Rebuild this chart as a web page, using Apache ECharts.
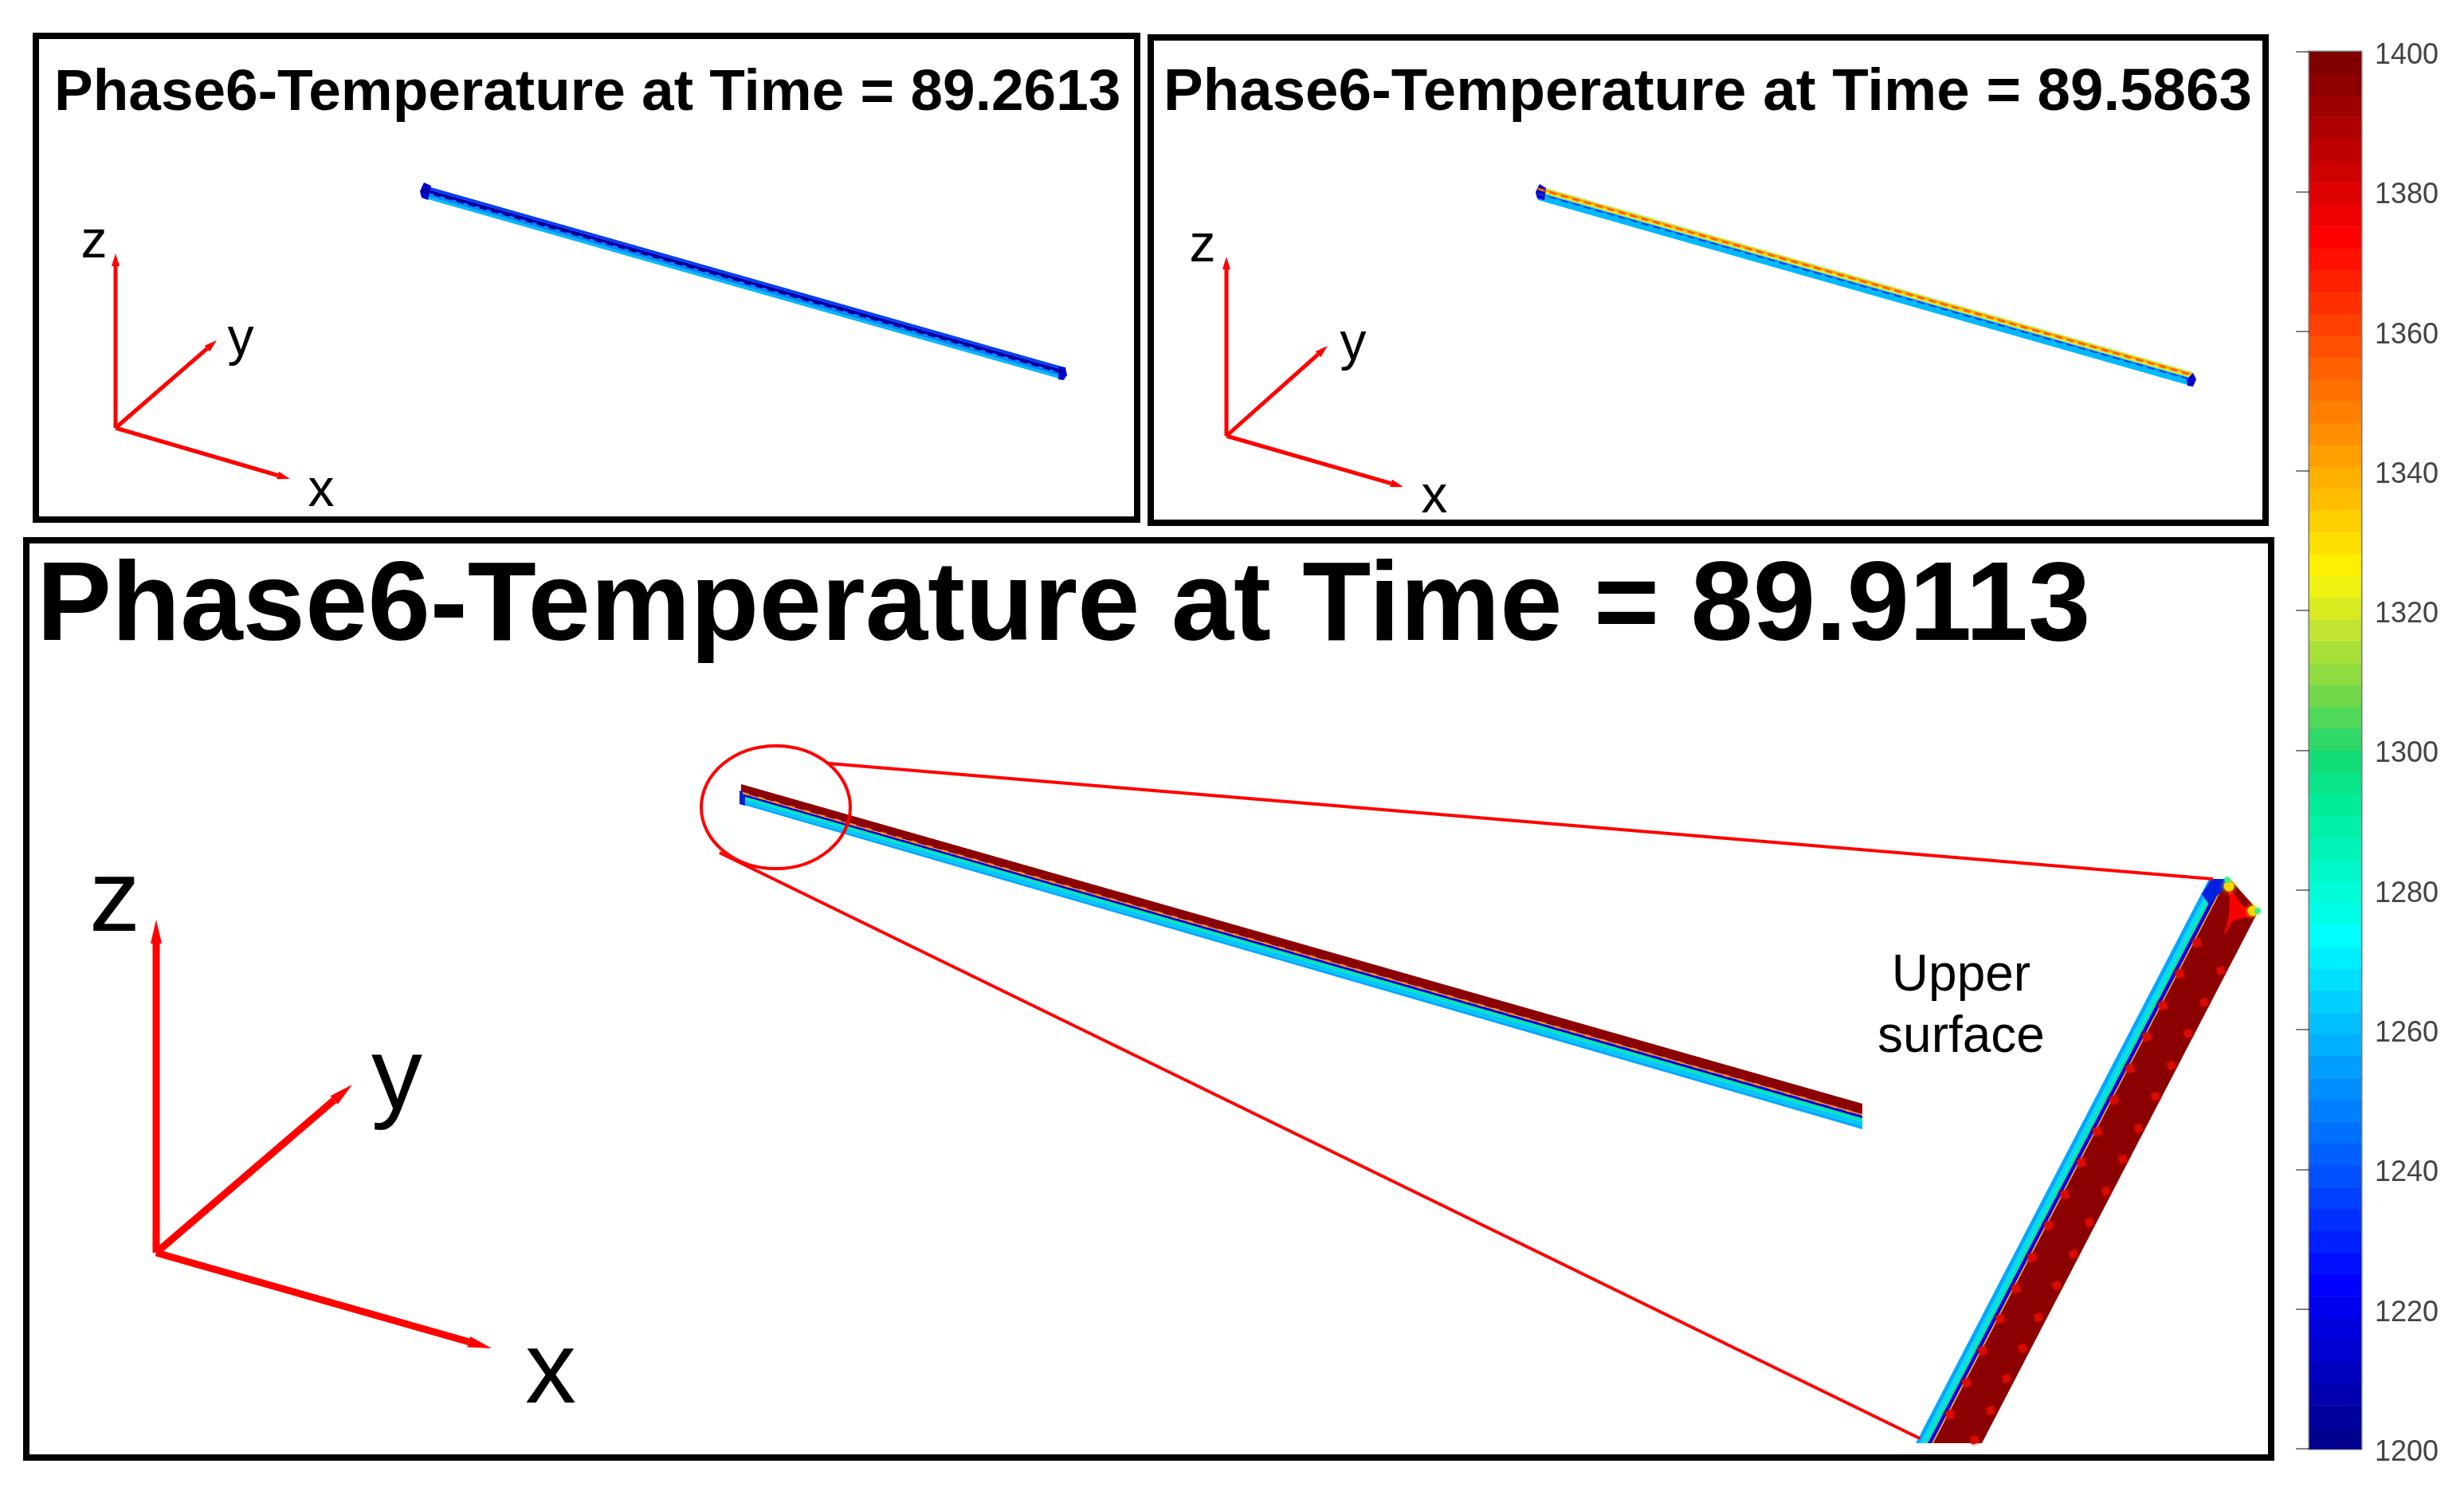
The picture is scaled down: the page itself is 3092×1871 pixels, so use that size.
<!DOCTYPE html>
<html><head><meta charset="utf-8">
<style>html,body{margin:0;padding:0;background:#fff}#c{width:3092px;height:1871px}#c canvas{filter:blur(.7px)}</style>
<script src="https://cdn.jsdelivr.net/npm/echarts@6/dist/echarts.min.js"></script></head>
<body><div id="c"></div>
<script>
// ---- text ----
const panelTitles = ['Phase6-Temperature at Time = 89.2613','Phase6-Temperature at Time = 89.5863','Phase6-Temperature at Time = 89.9113'];
const noteText = ['Upper','surface'];
// ---- colour bar ----
const colorbarTicks = [1200,1220,1240,1260,1280,1300,1320,1340,1360,1380,1400];
const colorbarLow = [1200,1203.125,1206.25,1209.375,1212.5,1215.625,1218.75,1221.875,1225,1228.125,1231.25,1234.375,1237.5,1240.625,1243.75,1246.875,1250,1253.125,1256.25,1259.375,1262.5,1265.625,1268.75,1271.875,1275,1278.125,1281.25,1284.375,1287.5,1290.625,1293.75,1296.875,1300,1303.125,1306.25,1309.375,1312.5,1315.625,1318.75,1321.875,1325,1328.125,1331.25,1334.375,1337.5,1340.625,1343.75,1346.875,1350,1353.125,1356.25,1359.375,1362.5,1365.625,1368.75,1371.875,1375,1378.125,1381.25,1384.375,1387.5,1390.625,1393.75,1396.875];
const colorbarColors = ['#00008f','#00009f','#0000af','#0000bf','#0000cf','#0000df','#0000ef','#0000ff','#0010ff','#0020ff','#0030ff','#0040ff','#0050ff','#0060ff','#0070ff','#0080ff','#008fff','#009fff','#00afff','#00bfff','#00cfff','#00dfff','#00efff','#00ffff','#00ffe8','#00fdd8','#00f8c8','#00f4b8','#00f0a8','#00ec98','#08e488','#10dc78','#30d868','#50d858','#70d848','#90dc40','#a8e038','#c0e430','#d8ea20','#eef210','#ffef00','#ffdf00','#ffcf00','#ffbf00','#ffaf00','#ff9f00','#ff8f00','#ff8000','#ff7000','#ff6000','#ff5000','#ff4000','#ff3000','#ff2000','#ff1000','#ff0000','#ef0000','#df0000','#cf0000','#bf0000','#af0000','#9f0000','#8f0000','#800000'];
// ---- rod cross-section layers: [fraction from, fraction to, colour] ----
const rod1Edges = [[[530,232],[1336,461]],[[530,248],[1336,477]]];
const rod1Layers = [[0,.22,'#0040f0'],[.22,.5,'#0000c0'],[.5,.8,'#0088ff'],[.8,1,'#00b8ff']];
const rod2Edges = [[[1930,233],[2752,467]],[[1930,251],[2752,485]]];
const rod2Layers = [[0,.08,'#a0ff60'],[.08,.26,'#ffa800'],[.26,.42,'#ffe000'],[.42,.48,'#00e0e0'],[.48,.58,'#0060ff'],[.58,1,'#00b8ff']];
const rod3Edges = [[[930,984],[2337,1385]],[[930,1009],[2337,1417]]];
const rod3Layers = [[0,.42,'#8b0000'],[.42,.46,'#ffa000'],[.46,.58,'#0000d8'],[.58,.7,'#00e8a0'],[.7,.88,'#00c8ff'],[.88,1,'#00a8ff']];
const zoomEdges = [[[2772,1103],[2404,1811]],[[2795,1103],[2426,1811]]];
const zoomLayers = [[0,.26,'#00a8ff'],[.26,.48,'#00d8ff'],[.48,.68,'#00e8a0'],[.68,.92,'#0000e0'],[.92,1,'#ffa000']];
const zoomRedFace = [[2426,1811],[2790,1112],[2800,1105],[2834,1143],[2487,1811]];
const zoomBlueCap = [[2775,1103],[2797,1103],[2790,1116],[2772,1135],[2763,1122]];
const zoomHotStar = [[2795,1112],[2806,1125],[2813,1135],[2825,1143],[2829,1150],[2815,1152],[2802,1155],[2790,1176],[2797,1150],[2798,1130]];
const zoomHotInner = [[2757,1183],[2735,1222],[2714,1262],[2694,1301],[2673,1341],[2653,1380],[2632,1420],[2612,1459],[2591,1499],[2571,1538],[2550,1578],[2530,1617],[2510,1655],[2488,1695],[2468,1735],[2447,1775]];
const zoomHotOuter = [[2787,1218],[2766,1258],[2746,1297],[2725,1337],[2705,1376],[2684,1416],[2664,1455],[2643,1495],[2622,1534],[2602,1574],[2581,1613],[2558,1653],[2538,1692],[2518,1730],[2498,1770],[2478,1807]];
const zoomYellowSpots = [[2797,1112],[2827,1143]];
const zoomGreenSpots = [[2833,1143],[2795,1104]];
const rod1Caps = [[[527,240],[532,229],[541,233],[537,251],[529,248]],[[1329,460],[1337,461],[1339,471],[1334,477],[1328,476]]];
const rod2Caps = [[[1927,241],[1932,231],[1940,236],[1938,251],[1929,249]],[[2744,476],[2752,468],[2756,476],[2752,485],[2745,484]]];
const rod3Cap = [[928,992],[935,994],[935,1011],[928,1009]];
// ---- overlay lines ----
const rod1Beads = [[530,239],[1336,468]];
const rod2HotBeads = [[1930,237],[2752,471]];
const rod2ColdBeads = [[1930,243],[2752,477]];
const rod3Scallops = [[932,995],[2337,1399]];
const zoomCircle = [973.5,1013,93.5,77];
const leaderUpper = [[1040,958],[2777,1103]];
const leaderLower = [[903,1070],[2409,1805]];
// ---- axis triads [origin, z tip, y tip, x tip] ----
const triad1 = [[145,537],[145,318],[272,427],[364,601]];
const triad2 = [[1539,547],[1539,322],[1666,434],[1761,611]];
const triad3 = [[196,1572],[196,1154],[442,1361],[617,1692]];
const triad1Labels = [[118,305,'z'],[302,427,'y'],[403,617,'x']];
const triad2Labels = [[1509,310,'z'],[1698,433,'y'],[1800,625,'x']];
const triad3Labels = [[144,1133,'z'],[498,1356,'y'],[691,1725,'x']];
const noteAnchors = [[2461,1225],[2461,1302]];
// ---- panels: [left, top, right, bottom] ----
const panels = [[45,45,1427,652],[1444,47,2843,656],[33,678,2850,1829]];

const FONT = '"Liberation Sans"';
const lerp = (a,b,t)=>[a[0]+(b[0]-a[0])*t, a[1]+(b[1]-a[1])*t];
function polySeries(name, g, polys){
  return {type:'custom',name,xAxisIndex:g,yAxisIndex:g,silent:true,z:3,
    data:polys.map(p=>[p.pts[0][0],p.pts[0][1]]),
    renderItem:(par,api)=>{const p=polys[par.dataIndex];
      return {type:'polygon',shape:{points:p.pts.map(q=>api.coord(q))},style:{fill:p.color}};}};
}
function layerPolys(edges,layers){
  const [[a,b],[c,d]]=edges;
  return layers.map(([f,t,color])=>({color,pts:[lerp(a,c,f),lerp(b,d,f),lerp(b,d,t),lerp(a,c,t)]}));
}
function lineS(name,g,pts,color,width,dash,z){
  return {type:'line',name,xAxisIndex:g,yAxisIndex:g,data:pts,silent:true,showSymbol:false,symbol:'none',z:z||4,
    clip:false,lineStyle:{color,width,type:dash||'solid',cap:'butt'}};
}
function spots(name,g,pts,color,size,sym,blur){
  return {type:'scatter',name,xAxisIndex:g,yAxisIndex:g,data:pts,silent:true,symbol:sym,symbolSize:size,symbolRotate:sym==='diamond'?-28:0,z:4,
    itemStyle:{color,opacity:1,shadowBlur:blur,shadowColor:color}};
}
function triadSeries(g,t,w,hl,hw){
  const [o,...tips]=t, out=[];
  tips.forEach((tip,i)=>{
    const dx=tip[0]-o[0],dy=tip[1]-o[1],L=Math.hypot(dx,dy),ux=dx/L,uy=dy/L;
    const base=[tip[0]-ux*hl,tip[1]-uy*hl];
    out.push(lineS('triad'+g+'-'+i,g,[o,base],'#ff0000',w));
    out.push(polySeries('head'+g+'-'+i,g,[{color:'#ff0000',pts:[tip,[base[0]-uy*hw,base[1]+ux*hw],[base[0]+uy*hw,base[1]-ux*hw]]}]));
  });
  return out;
}
function textSeries(name,g,items,fs){
  return {type:'scatter',name,xAxisIndex:g,yAxisIndex:g,silent:true,symbolSize:1,itemStyle:{color:'transparent',opacity:1},z:6,
    data:items.map(d=>({value:[d[0],d[1]],name:d[2]})),
    label:{show:true,position:'inside',formatter:'{b}',color:'#000',fontFamily:FONT,fontSize:fs,align:'center',verticalAlign:'middle'}};
}
const grids = panels.map(p=>({left:p[0],top:p[1],width:p[2]-p[0],height:p[3]-p[1],show:true,borderColor:'#000',borderWidth:8,backgroundColor:'transparent'}));
grids.push({left:2898,top:65,width:65,height:1753,show:true,borderColor:'#777',borderWidth:3,backgroundColor:'transparent'});
const xAxes = panels.map((p,i)=>({gridIndex:i,type:'value',min:p[0],max:p[2],show:false}));
const yAxes = panels.map((p,i)=>({gridIndex:i,type:'value',min:p[1],max:p[3],inverse:true,show:false}));
xAxes.push({gridIndex:3,type:'value',min:0,max:1,show:false});
yAxes.push({gridIndex:3,type:'value',min:1200,max:1400,interval:20,position:'right',z:6,
  axisLine:{show:false},splitLine:{show:false},
  axisTick:{show:true,inside:true,length:17,lineStyle:{color:'rgba(30,30,30,.55)',width:2}},
  axisLabel:{show:true,margin:17,color:'#444',fontFamily:FONT,fontSize:36,
    rich:{a:{color:'#444',fontFamily:FONT,fontSize:36,padding:[10,0,0,0]}},
    formatter:v=>colorbarTicks.includes(v)?'{a|'+v+'}':''}});

const series = [
  {type:'custom',name:'Temperature colour bar',xAxisIndex:3,yAxisIndex:3,silent:true,z:2,
   data:colorbarLow.map(v=>[0,v]),
   renderItem:(par,api)=>{const lo=api.value(1),hi=lo+3.125;
     const a=api.coord([0,hi]),b=api.coord([1,lo]);
     return {type:'rect',shape:{x:a[0],y:a[1],width:b[0]-a[0],height:b[1]-a[1]+.5},style:{fill:colorbarColors[par.dataIndex]}};}},
  // panel 1
  polySeries('rod 1',0,layerPolys(rod1Edges,rod1Layers)),
  lineS('rod 1 beads',0,rod1Beads,'#000090',4,[9,6]),
  polySeries('rod 1 ends',0,rod1Caps.map(pts=>({pts,color:'#0000c8'}))),
  ...triadSeries(0,triad1,5,16,5),
  textSeries('triad 1 labels',0,triad1Labels,66),
  // panel 2
  polySeries('rod 2',1,layerPolys(rod2Edges,rod2Layers)),
  lineS('rod 2 hot beads',1,rod2HotBeads,'#ff6000',3,[9,6]),
  lineS('rod 2 cold beads',1,rod2ColdBeads,'#0040e0',2,[9,6]),
  polySeries('rod 2 ends',1,rod2Caps.map(pts=>({pts,color:'#0000c8'}))),
  ...triadSeries(1,triad2,5,16,5),
  textSeries('triad 2 labels',1,triad2Labels,66),
  // panel 3
  polySeries('rod 3',2,layerPolys(rod3Edges,rod3Layers)),
  lineS('rod 3 scallops',2,rod3Scallops,'#ff9000',2.5,[8,12]),
  polySeries('rod 3 end',2,[{pts:rod3Cap,color:'#0020d8'}]),
  polySeries('zoom strips',2,layerPolys(zoomEdges,zoomLayers)),
  polySeries('zoom face',2,[{pts:zoomRedFace,color:'#8b0000'}]),
  polySeries('zoom cap',2,[{pts:zoomBlueCap,color:'#0020e0'}]),
  polySeries('zoom hot star',2,[{pts:zoomHotStar,color:'#f80000'}]),
  spots('inner hot spots',2,zoomHotInner,'#d80c00',14,'diamond',4),
  spots('outer hot spots',2,zoomHotOuter,'#d80c00',13,'diamond',4),
  spots('yellow spots',2,zoomYellowSpots,'#ffd800',13,'circle',6),
  spots('green spots',2,zoomGreenSpots,'#30f090',7,'circle',3),
  {type:'custom',name:'zoom circle',xAxisIndex:2,yAxisIndex:2,silent:true,z:5,data:[zoomCircle],
   renderItem:(par,api)=>{const c=api.coord([api.value(0),api.value(1)]),s=api.size([api.value(2),api.value(3)]);
     return {type:'ellipse',shape:{cx:c[0],cy:c[1],rx:s[0],ry:s[1]},style:{fill:'none',stroke:'#ff0000',lineWidth:4}};}},
  lineS('upper leader',2,leaderUpper,'#ff0000',4,null,5),
  lineS('lower leader',2,leaderLower,'#ff0000',4,null,5),
  ...triadSeries(2,triad3,9,30,7),
  textSeries('triad 3 labels',2,triad3Labels,128),
  textSeries('note',2,noteAnchors.map((a,i)=>[a[0],a[1],noteText[i]]),64)
];
const titles = [[68,81,73],[1460,80,74.5],[46,694,141]].map((t,i)=>({text:panelTitles[i],left:t[0],top:t[1],padding:0,
  textStyle:{fontFamily:FONT,fontWeight:'bold',fontSize:t[2],color:'#000'}}));

const chart = echarts.init(document.getElementById('c'),null,{renderer:'canvas',width:3092,height:1871});
chart.setOption({animation:false,backgroundColor:'#fff',title:titles,grid:grids,xAxis:xAxes,yAxis:yAxes,series});
</script></body></html>
